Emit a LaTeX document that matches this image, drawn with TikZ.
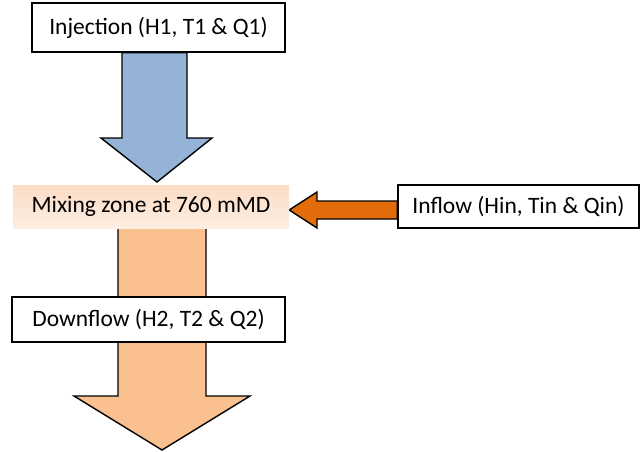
\documentclass[tikz,border=0pt]{standalone}
\usepackage{fontspec}
\setmainfont{Carlito}
\usetikzlibrary{backgrounds}
\definecolor{blockblue}{HTML}{95B3D7}
\definecolor{peach}{HTML}{FAC090}
\definecolor{darkorange}{HTML}{E36C0A}
\definecolor{mixtop}{HTML}{FBDCC5}
\definecolor{mixbot}{HTML}{FDEEE3}
\tikzset{
	labelbox/.style={
		draw,
		fill = white,
		line width = 1.4pt,
		inner xsep = 0pt
	},
	blockarrow/.style={
		draw,
		line width = 1.4pt,
		line join = miter
	},
}

\begin{document}
\begin{tikzpicture}[x=1pt, y=-1pt, font=\fontsize{23.5}{28}\selectfont]
    \useasboundingbox (0,0) rectangle (644,451);
    \node[labelbox, minimum width=253pt, minimum height=49pt] (inj) at (158.5,27.5) {Injection (H1, T1 \& Q1)};
    \node[top color=mixtop, bottom color=mixbot, minimum width=276pt, minimum height=43pt] (mix) at (151,206.5) {Mixing zone at 760 mMD};
    \node[labelbox, minimum width=241pt, minimum height=43pt] (inf) at (518.5,206.5) {Inflow (Hin, Tin \& Qin)};
    \node[labelbox, minimum width=273pt, minimum height=45pt] (down) at (148.5,319.5) {Downflow (H2, T2 \& Q2)};
    \begin{scope}[on background layer]
      \draw[blockarrow, fill=blockblue] (122,0 |- inj.south) -- (122,138) -- (101,138) -- (157,182)
        -- (212,138) -- (187,138) -- (187,0 |- inj.south) -- cycle;
      \draw[blockarrow, fill=darkorange] (inf.west |- 0,201) -- (317,201) -- (317,192) -- (mix.east |- 0,210)
        -- (317,228) -- (317,219) -- (inf.west |- 0,219) -- cycle;
      \draw[blockarrow, fill=peach] (118,0 |- mix.south) -- (118,396) -- (74,396) -- (162,450)
        -- (250,396) -- (206,396) -- (206,0 |- mix.south) -- cycle;
    \end{scope}
  \end{tikzpicture}
\end{document}
